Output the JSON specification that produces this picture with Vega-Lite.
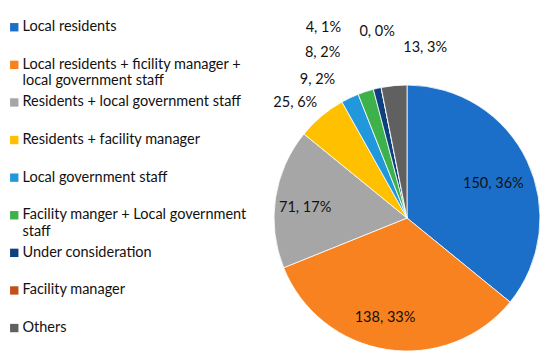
{
  "$schema": "https://vega.github.io/schema/vega-lite/v6.json",
  "width": 266,
  "height": 266,
  "autosize": {"type": "none"},
  "padding": {"left": 274, "top": 85, "right": 10, "bottom": 8},
  "background": "white",
  "config": {
    "view": {"stroke": null},
    "font": "Lato",
    "text": {"font": "Lato", "fontSize": 14.5, "color": "#111111"}
  },
  "data": {
    "values": [
      {"cat": "Local residents", "n": 150, "label": "150, 36%", "order": 1},
      {"cat": "Local residents + ficility manager + local government staff", "n": 138, "label": "138, 33%", "order": 2},
      {"cat": "Residents + local government staff", "n": 71, "label": "71, 17%", "order": 3},
      {"cat": "Residents + facility manager", "n": 25, "label": "25, 6%", "order": 4},
      {"cat": "Local government staff", "n": 9, "label": "9, 2%", "order": 5},
      {"cat": "Facility manger + Local government staff", "n": 8, "label": "8, 2%", "order": 6},
      {"cat": "Under consideration", "n": 4, "label": "4, 1%", "order": 7},
      {"cat": "Facility manager", "n": 0, "label": "0, 0%", "order": 8},
      {"cat": "Others", "n": 13, "label": "13, 3%", "order": 9}
    ]
  },
  "encoding": {
    "theta": {"field": "n", "type": "quantitative", "stack": true},
    "order": {"field": "order", "type": "quantitative"}
  },
  "layer": [
    {
      "mark": {"type": "arc", "outerRadius": 133, "stroke": "white", "strokeWidth": 0.8},
      "encoding": {
        "color": {
          "field": "cat",
          "type": "nominal",
          "scale": {
            "domain": ["Local residents", "Local residents + ficility manager + local government staff", "Residents + local government staff", "Residents + facility manager", "Local government staff", "Facility manger + Local government staff", "Under consideration", "Facility manager", "Others"],
            "range": ["#1B6FC8", "#F7821F", "#A6A6A6", "#FFC000", "#2198DB", "#3DB14A", "#0E3F7E", "#C3501B", "#606060"]
          },
          "legend": {
            "orient": "none",
            "legendX": -267,
            "legendY": -65,
            "title": null,
            "padding": 0,
            "symbolType": "square",
            "symbolSize": 70,
            "symbolStrokeWidth": 0,
            "labelFont": "Lato",
            "labelFontSize": 14.5,
            "labelColor": "#111111",
            "labelLimit": 400,
            "labelOffset": 1,
            "rowPadding": 5.6,
            "labelExpr": "datum.label === 'Local residents + ficility manager + local government staff' ? ['Local residents + ficility manager +', 'local government staff'] : datum.label === 'Facility manger + Local government staff' ? ['Facility manger + Local government', 'staff'] : [datum.label, ' ']"
          }
        }
      }
    },
    {
      "mark": {"type": "text", "radius": 100, "dx": -4, "dy": 9},
      "encoding": {"text": {"condition": {"test": "datum.order === 1", "field": "label"}, "value": ""}}
    },
    {
      "mark": {"type": "text", "radius": 100, "dx": -7, "dy": 1},
      "encoding": {"text": {"condition": {"test": "datum.order === 2", "field": "label"}, "value": ""}}
    },
    {
      "mark": {"type": "text", "radius": 100, "dx": -3, "dy": 5},
      "encoding": {"text": {"condition": {"test": "datum.order === 3", "field": "label"}, "value": ""}}
    },
    {
      "mark": {"type": "text", "radius": 155, "dx": -12, "dy": 4},
      "encoding": {"text": {"condition": {"test": "datum.order === 4", "field": "label"}, "value": ""}}
    },
    {
      "mark": {"type": "text", "radius": 155, "dx": -23, "dy": 2},
      "encoding": {"text": {"condition": {"test": "datum.order === 5", "field": "label"}, "value": ""}}
    },
    {
      "mark": {"type": "text", "radius": 175, "dx": -30, "dy": 1},
      "encoding": {"text": {"condition": {"test": "datum.order === 6", "field": "label"}, "value": ""}}
    },
    {
      "mark": {"type": "text", "radius": 195, "dx": -40, "dy": 0},
      "encoding": {"text": {"condition": {"test": "datum.order === 7", "field": "label"}, "value": ""}}
    },
    {
      "mark": {"type": "text", "radius": 190, "dx": 7, "dy": 0},
      "encoding": {"text": {"condition": {"test": "datum.order === 8", "field": "label"}, "value": ""}}
    },
    {
      "mark": {"type": "text", "radius": 172, "dx": 35, "dy": 1},
      "encoding": {"text": {"condition": {"test": "datum.order === 9", "field": "label"}, "value": ""}}
    }
  ]
}
